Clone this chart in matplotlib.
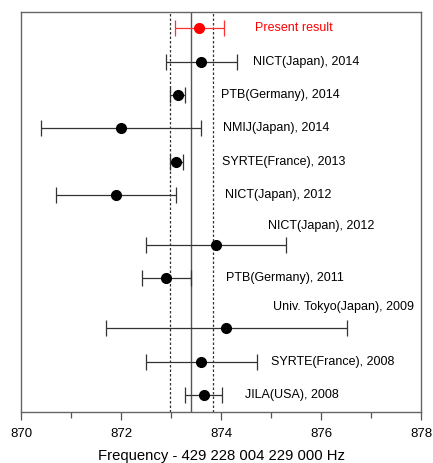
import matplotlib
matplotlib.use('Agg')
import matplotlib.pyplot as plt
from matplotlib.ticker import MultipleLocator

# measurements: freq - 429 228 004 229 000 Hz
labels = ['Present result', 'NICT(Japan), 2014', 'PTB(Germany), 2014', 'NMIJ(Japan), 2014',
          'SYRTE(France), 2013', 'NICT(Japan), 2012', 'NICT(Japan), 2012', 'PTB(Germany), 2011',
          'Univ. Tokyo(Japan), 2009', 'SYRTE(France), 2008', 'JILA(USA), 2008']
rows = [0, 1, 2, 3, 4, 5, 6.5, 7.5, 9, 10, 11]
values = [873.56, 873.60, 873.13, 872.00, 873.09, 871.89, 873.90, 872.89, 874.09, 873.60, 873.65]
err_lo = [0.49, 0.70, 0.16, 1.60, 0.12, 1.19, 1.41, 0.48, 2.40, 1.11, 0.38]
err_hi = [0.49, 0.71, 0.14, 1.60, 0.14, 1.20, 1.40, 0.50, 2.42, 1.11, 0.36]
label_x = [874.68, 874.63, 874.00, 874.03, 874.01, 874.07, 874.93, 874.09, 875.03, 874.99, 874.47]
label_row = [0, 1, 2, 3, 4, 5, 5.92, 7.5, 8.37, 10, 11]

mean_val = 873.39
band = (872.98, 873.83)

fig = plt.figure(figsize=(4.33, 4.63), dpi=100)
ax = fig.add_axes([0.0485, 0.1108, 0.9238, 0.8639])

ax.axvline(mean_val, color='#555555', lw=1.0, zorder=1)
for b in band:
    ax.axvline(b, color='#333333', lw=0.9, ls=(0, (2, 1.6)), zorder=1)

for i in range(len(values)):
    c = 'red' if i == 0 else 'black'
    ec = '#ff3030' if i == 0 else '#333333'
    ax.errorbar(values[i], rows[i], xerr=[[err_lo[i]], [err_hi[i]]], fmt='o', color=c,
                ecolor=ec, elinewidth=0.9, capsize=6, capthick=0.9, markersize=7, zorder=3)
    ax.text(label_x[i], label_row[i], labels[i], color=c, fontsize=9, va='center', ha='left',
            family=['Liberation Sans', 'DejaVu Sans'])

ax.set_xlim(870, 878)
ax.set_ylim(11.5, -0.5)
ax.set_yticks([])
ax.xaxis.set_major_locator(MultipleLocator(2))
ax.xaxis.set_minor_locator(MultipleLocator(1))
ax.tick_params(axis='x', which='major', direction='out', length=6, width=0.9, color='#555555',
               labelsize=9.5, pad=6)
ax.tick_params(axis='x', which='minor', direction='out', length=4.5, width=0.9, color='#555555')
for lab in ax.get_xticklabels():
    lab.set_family(['Liberation Sans', 'DejaVu Sans'])
for s in ax.spines.values():
    s.set_color('#666666')
    s.set_linewidth(1.0)

ax.set_xlabel('Frequency - 429 228 004 229 000 Hz', fontsize=10.7,
              family=['Liberation Sans', 'DejaVu Sans'], labelpad=6)

fig.savefig('out.png', dpi=100)
